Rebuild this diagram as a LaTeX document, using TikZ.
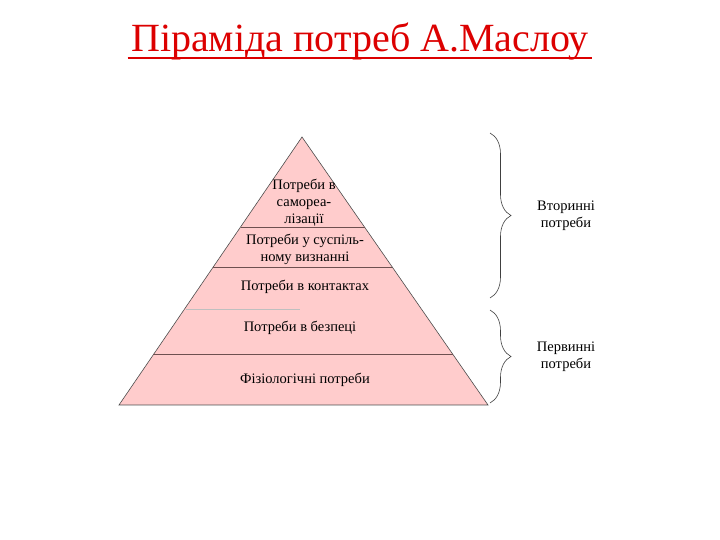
\documentclass[tikz,border=0pt]{standalone}
\usepackage{fontspec}
\setmainfont{Liberation Serif}
\usepackage{xcolor}
\usepackage{tikz}
\usetikzlibrary{calc,decorations.pathreplacing}

\definecolor{rosa}{RGB}{255,204,204}
\definecolor{linea}{RGB}{110,80,80}
\definecolor{titolo}{RGB}{220,0,0}

\begin{document}
\begin{tikzpicture}[x=1pt, y=1pt,
  livello/.style={font=\fontsize{14.5}{17}\selectfont, align=center},
  etichetta/.style={font=\fontsize{14.5}{17}\selectfont, align=center},
  graffa/.style={draw=black!75, semithick, decorate, decoration={brace, amplitude=21pt}}]

\useasboundingbox (0,0) rectangle (720,540);

% Titolo
\node[font=\fontsize{40}{46}\selectfont, text=titolo] (titolo) at (360,498) {Піраміда потреб А.Маслоу};
\draw[titolo, line width=1.8pt] ([yshift=-6pt]titolo.base west) -- ([yshift=-6pt]titolo.base east);

% Piramide
\coordinate (apice) at (302,403);
\coordinate (sx) at (119,135);
\coordinate (dx) at (488,135);
\filldraw[fill=rosa, draw=black!70, semithick] (apice) -- (sx) -- (dx) -- cycle;

% Linee dei livelli
\foreach \t in {0.336,0.485,0.813}
  \draw[linea, line width=0.9pt] ($(apice)!\t!(sx)$) -- ($(apice)!\t!(dx)$);
\draw[black!25] (186,231) -- (300,231);

% Testi dei livelli
\node[livello] (l5) at (304,337) {Потреби в\\самореа-\\лізації};
\node[livello] (l4) at (305,291) {Потреби у суспіль-\\ному визнанні};
\node[livello] (l3) at (305,253) {Потреби в контактах};
\node[livello] (l2) at (300,212) {Потреби в безпеці};
\node[livello] (l1) at (305,160) {Фізіологічні потреби};

% Graffe
\coordinate (g1a) at (490,407);
\coordinate (g1b) at (490,242);
\coordinate (g2a) at (490,230);
\coordinate (g2b) at (490,137);
\draw[graffa] (g1a) -- (g1b);
\draw[graffa] (g2a) -- (g2b);

% Etichette delle graffe
\node[etichetta] (sec) at (566,324) {Вторинні\\потреби};
\node[etichetta] (pri) at (566,183) {Первинні\\потреби};

\end{tikzpicture}
\end{document}
